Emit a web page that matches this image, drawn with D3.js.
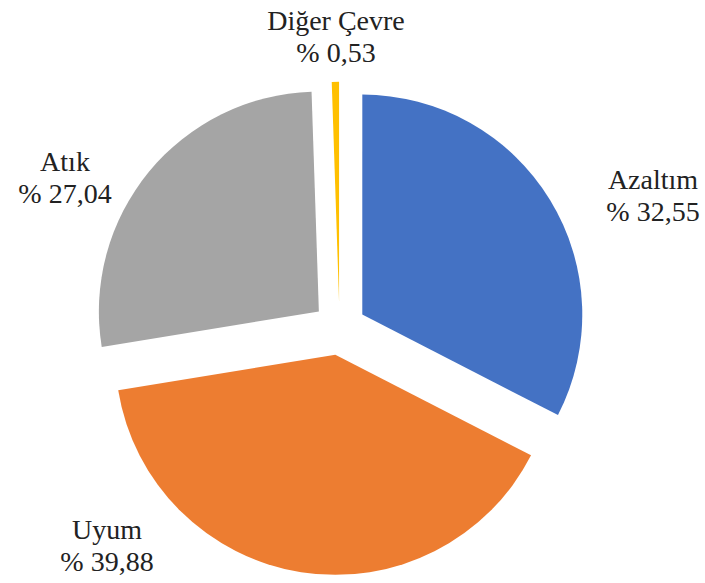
<!DOCTYPE html>
<html><head><meta charset="utf-8">
<script src="https://cdn.jsdelivr.net/npm/d3@7"></script>
<style>body{margin:0;background:#fff}svg{display:block}</style>
</head><body>
<svg id="c" width="705" height="583"></svg>
<script>
const categories = ["Azaltım", "Uyum", "Atık", "Diğer Çevre"];
const values = [32.55, 39.88, 27.04, 0.53];
const valueLabels = ["% 32,55", "% 39,88", "% 27,04", "% 0,53"];
const colors = ["#4472C4", "#ED7D31", "#A5A5A5", "#FFC000"];
// label anchor positions (layout, centre of text block)
const labelPos = [[653, 195], [107, 545], [65, 177], [336, 36]];

const svg = d3.select("#c");
const cx = 339.5, cy = 328.5, r = 220, explode = 26.7;
const pie = d3.pie().sort(null).value(d => d)(values);
const arc = d3.arc().innerRadius(0).outerRadius(r);
const g = svg.append("g").attr("transform", `translate(${cx},${cy})`);
g.selectAll("path").data(pie).join("path")
  .attr("d", arc)
  .attr("fill", (d, i) => colors[i])
  .attr("transform", d => {
    const a = (d.startAngle + d.endAngle) / 2;
    return `translate(${Math.sin(a) * explode},${-Math.cos(a) * explode})`;
  });

const lab = svg.append("g")
  .attr("font-family", "'Liberation Serif', 'Times New Roman', serif")
  .attr("font-size", 28).attr("fill", "#222").attr("text-anchor", "middle");
categories.forEach((c, i) => {
  const t = lab.append("text").attr("x", labelPos[i][0]).attr("y", labelPos[i][1] - 6);
  t.append("tspan").attr("x", labelPos[i][0]).text(c);
  t.append("tspan").attr("x", labelPos[i][0]).attr("dy", 32).text(valueLabels[i]);
});
</script>
</body></html>
